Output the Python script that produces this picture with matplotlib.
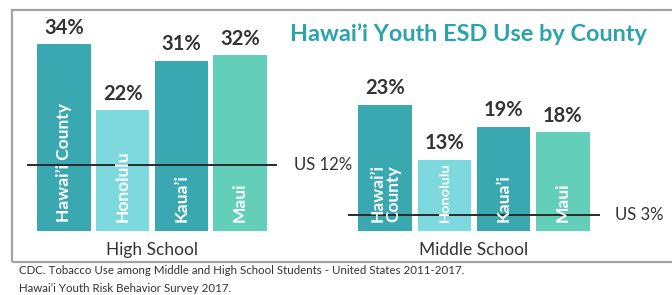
import numpy as np
import matplotlib
matplotlib.use("Agg")
import matplotlib.pyplot as plt
from matplotlib.patches import Rectangle

plt.rcParams['font.family'] = ['Lato', 'DejaVu Sans']

counties_hs = ['Hawai’i County', 'Honolulu', 'Kaua’i', 'Maui']
counties_ms = ['Hawai’i\nCounty', 'Honolulu', 'Kaua’i', 'Maui']
high_school = [34, 22, 31, 32]
middle_school = [23, 13, 19, 18]
us_rates = [12, 3]
groups = ['High School', 'Middle School']

colors = ['#3aa8b0', '#7ed9de', '#3aa8b0', '#63cfb8']
W, H = 672, 295

fig = plt.figure(figsize=(W / 100, H / 100), dpi=100)

# gray frame, open on the right
frame = Rectangle((12 / W, 1 - 262 / H), 1.0, (262 - 10) / H,
                  transform=fig.transFigure, fill=False,
                  edgecolor='#a3a3a0', linewidth=1.6)
fig.patches.append(frame)


def panel(left_px, right_px, values, labels, us, name, us_x):
    ax = fig.add_axes([left_px / W, 1 - 231 / H,
                       (right_px - left_px) / W, (231 - 10) / H])
    x = np.arange(len(values))
    bars = ax.bar(x, values, width=0.91, color=colors, zorder=2)
    ax.set_xlim(-0.63, 3.63)
    ax.set_ylim(0, 221 / 5.5)
    ax.axis('off')
    ax.axhline(us, color='#2b2b2b', linewidth=1.4, zorder=3)
    renderer = fig.canvas.get_renderer()
    for xi, v, lab, bar in zip(x, values, labels, bars):
        ax.text(xi, v + 1.1, f'{v}%', ha='center', va='bottom',
                fontsize=14.5, fontweight='bold', color='#333333')
        t = ax.text(xi, 1.6, lab, rotation=90, ha='center', va='bottom',
                    fontsize=12.5, fontweight='bold', color='white',
                    linespacing=0.95, zorder=4)
        # shrink the label if it would run past the top of its bar
        top = ax.transData.transform((xi, v))[1] - 3
        ext = t.get_window_extent(renderer)
        if ext.y1 > top:
            t.set_fontsize(12.5 * (top - ext.y0) / ext.height)
    ax.text(us_x, us, f'US {us}%', transform=ax.get_yaxis_transform(),
            ha='left', va='center', fontsize=12, color='#333333')
    ax.text(1.5, -3.5, name, ha='center', va='center',
            fontsize=12.5, color='#333333', clip_on=False)
    return ax


ax1 = panel(27, 277, high_school, counties_hs, us_rates[0], groups[0], 1.07)
ax2 = panel(348, 600, middle_school, counties_ms, us_rates[1], groups[1], 1.06)

fig.text(290 / W, 1 - 34 / H, 'Hawai’i Youth ESD Use by County',
         ha='left', va='center', fontsize=16.9, fontweight='bold', color='#2ba3ab')

fig.text(19 / W, 1 - 271 / H,
         'CDC. Tobacco Use among Middle and High School Students - United States 2011-2017.',
         ha='left', va='center', fontsize=8.3, color='#333333')
fig.text(19 / W, 1 - 288 / H, 'Hawai’i Youth Risk Behavior Survey 2017.',
         ha='left', va='center', fontsize=8.3, color='#333333')

fig.savefig('out.png', dpi=100)
